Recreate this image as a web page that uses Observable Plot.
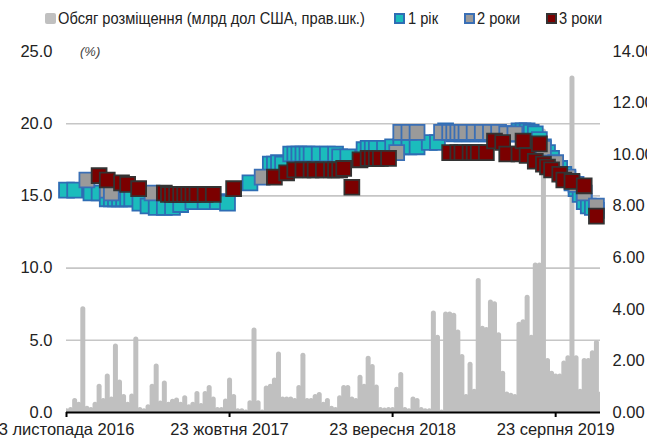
<!DOCTYPE html>
<html>
<head>
<meta charset="utf-8">
<script src="https://cdn.jsdelivr.net/npm/d3@7"></script>
<script src="https://cdn.jsdelivr.net/npm/@observablehq/plot@0.6"></script>
<style>
  body { margin: 0; background: #fff; }
  #wrap { position: relative; width: 647px; height: 445px; overflow: hidden; font-family: "Liberation Sans", Arial, sans-serif; color: #222; }
  #chart { position: absolute; left: 0; top: 0; }
  .lg { position: absolute; top: 9px; font-size: 17px; line-height: 20px; white-space: nowrap; transform: scaleX(0.862); transform-origin: 0 0; }
  .sw { position: absolute; top: 13px; width: 11px; height: 11px; box-sizing: border-box; }
  #unit { position: absolute; left: 80px; top: 44px; font-size: 13px; font-style: italic; color: #444; }
</style>
</head>
<body>
<div id="wrap">
  <div id="chart"></div>
  <div class="sw" style="left:45px;background:#c0c0c0;border-radius:2px;"></div>
  <div class="lg" style="left:58px;">Обсяг розміщення (млрд дол США, прав.шк.)</div>
  <div class="sw" style="left:394px;background:#1bbcbc;border:2px solid #2e6db4;"></div>
  <div class="lg" style="left:408px;">1 рік</div>
  <div class="sw" style="left:464px;background:#9a9a9a;border:2px solid #3a6fb5;"></div>
  <div class="lg" style="left:477px;">2 роки</div>
  <div class="sw" style="left:546px;background:#7b0000;border:2px solid #333;"></div>
  <div class="lg" style="left:559px;">3 роки</div>
  <div id="unit">(%)</div>
</div>
<script>
// Placement volume, bn USD (right axis), one value per auction slot 0..131
const volume = [
  0.05,0.1,0.45,0.3,4.0,0.15,0.1,0.3,1.0,0.45,
  1.4,0.5,2.56,1.16,0.6,0.3,0.62,2.83,0.1,0.05,
  0.2,1.0,1.78,0.35,1.12,0.3,0.42,0.47,0.3,0.55,
  0.2,0.3,0.72,0.25,0.72,0.95,0.5,0.1,0.1,0.43,
  1.24,0.6,0.05,0.05,0.0,0.36,3.18,0.36,0.0,0.93,
  1.0,1.24,2.25,0.5,0.5,0.5,0.45,0.95,2.2,0.45,
  0.45,0.6,0.68,0.3,0.45,0.15,0.1,0.55,0.95,0.95,
  0.5,0.45,1.35,1.0,2.08,1.76,0.97,0.1,0.08,0.1,
  0.1,0.88,1.45,0.1,0.05,0.5,0.45,0.1,0.05,0.05,
  3.84,2.9,0.0,3.8,3.8,3.75,3.1,2.15,0.6,1.85,
  0.8,5.1,3.25,3.2,4.27,4.2,3.0,1.5,0.7,0.65,
  0.6,3.4,3.5,4.45,2.9,5.7,5.7,10.9,2.0,1.5,
  1.4,1.4,1.9,2.1,12.95,2.1,0.8,2.0,2.0,2.3,
  2.7,0.7
];
// Yields, % (left axis): [slot, value]
const rate1 = [
  [0,15.4],[2,15.4],[6,15.2],[8,15.2],[10,14.8],[11,14.8],[12,14.8],[13,14.8],[14,14.8],[15,14.8],[16,14.8],
  [18,14.5],[20,14.3],[22,14.2],[24,14.2],[26,14.2],[28,14.4],[31,14.6],[34,14.6],[37,14.6],[39.5,14.5],
  [45,15.9],[50,17.2],[51,17.2],[52,17.3],[53,17.2],
  [55,17.9],[56,17.9],[57,17.9],[58,17.9],[59,17.9],[60,17.9],[62,17.9],[64,17.9],[66,17.9],[67,17.7],[69,17.7],
  [73,18.2],[74,18.3],[75,18.3],[76,18.3],[78,18.3],[80,18.4],[82,18.4],[84,18.4],[86,18.4],[89,18.7],[91,18.7],
  [93,19.5],[95,19.3],[97,19.3],[99,19.3],[101,19.3],[103,19.3],[105,19.3],[107,19.3],[109,19.3],
  [111,19.5],[112,19.5],[113,19.5],[114,19.4],[115,19.3],[116,18.9],
  [117,18.4],[118,18.0],[119,17.6],[120,17.2],[121,16.9],[122,16.5],[123,16.2],[124,15.9],[125,15.5],
  [126,15.1],[127,14.6],[128,14.3],[129,14.2],[130,14.0]
];
const rate2 = [
  [5,16.1],[10,15.4],[11,15.2],[21,15.2],[48,16.3],
  [81,18.0],[82,19.4],[84,19.4],[86,19.4],[92,19.4],[94,19.4],[95,19.4],[96,19.4],[97,19.4],[98,19.4],
  [100,19.4],[102,19.4],[104,19.4],[106,19.4],[108,19.3],[110,19.3],
  [117,18.3],[120,17.3],[123,16.3],[125,15.8],[127,15.2],[130,14.3]
];
const rate3 = [
  [8,16.4],[10,16.1],[13.5,15.9],[15,15.8],[17.7,15.5],
  [24,15.2],[25,15.1],[26,15.1],[27,15.1],[28,15.1],[29,15.1],[30,15.1],[31,15.1],[32,15.1],[34,15.1],[36,15.1],
  [41,15.5],[51,16.3],[54,16.6],
  [56,16.8],[58,16.8],[60,16.8],[61,16.8],[63,16.8],[65,16.8],[66,16.8],[67,16.8],[68,16.9],[70,15.6],
  [72,17.5],[74,17.6],[75,17.6],[76,17.6],[77,17.6],[79,17.6],
  [94,18.0],[96,18.0],[97,18.0],[99,18.0],[100,18.0],[101,18.0],[103,18.0],
  [105,18.8],[107,18.7],[108,17.9],[111,17.9],[112,18.8],[113,17.8],[115,17.4],[116,18.6],
  [117,17.2],[118,17.0],[119,16.8],[121,16.5],[122,16.1],[124,16.0],[127,15.7],[130,13.6]
];
const tickPos = [0, 40, 80, 120];
const tickLabels = ["3 листопада 2016", "23 жовтня 2017", "23 вересня 2018", "23 серпня 2019"];
const leftTicks = [0, 5, 10, 15, 20, 25];
const rightTicks = [0, 2, 4, 6, 8, 10, 12, 14];
const K = 25 / 14; // right-axis units -> left-axis units

const bars = volume.map((v, i) => ({i, v}));
const pts = a => a.map(([i, v]) => ({i, v}));
const font = '"Liberation Sans", Arial, sans-serif';

const chart = Plot.plot({
  width: 647,
  height: 445,
  marginLeft: 66,
  marginRight: 47,
  marginTop: 51,
  marginBottom: 33,
  style: {fontFamily: font, fontSize: "16.5px", color: "#222", background: "transparent", overflow: "visible"},
  x: {type: "linear", domain: [0, 131], axis: null, label: null},
  y: {type: "linear", domain: [0, 25], axis: null, label: null},
  marks: [
    Plot.gridY(leftTicks.filter(d => d > 0 && d < 25), {stroke: "#c6c6c6", strokeOpacity: 1, strokeWidth: 1.6}),
    Plot.ruleX(bars, {x: "i", y1: 0, y2: d => d.v * K, stroke: "#c0c0c0", strokeWidth: 5, strokeLinecap: "round", clip: true}),
    Plot.dot(pts(rate1), {x: "i", y: "v", symbol: "square", r: 8.4, fill: "#1bbcbc", stroke: "#2e6db4", strokeWidth: 1.8}),
    Plot.dot(pts(rate2), {x: "i", y: "v", symbol: "square", r: 8.4, fill: "#9a9a9a", stroke: "#3a6fb5", strokeWidth: 1.8}),
    Plot.dot(pts(rate3), {x: "i", y: "v", symbol: "square", r: 8.4, fill: "#7b0000", stroke: "#333333", strokeWidth: 1.8}),
    Plot.ruleY([0], {stroke: "#000", strokeWidth: 2}),
    Plot.axisX(tickPos, {label: null, tickSize: 5, strokeWidth: 2, stroke: "#000", tickPadding: 6, tickFormat: d => tickLabels[tickPos.indexOf(d)], fontSize: 16.5, fill: "#222"}),
    Plot.axisY(leftTicks, {label: null, anchor: "left", tickSize: 0, tickPadding: 14, tickFormat: d => d.toFixed(1), fontSize: 16.5, fill: "#222"}),
    Plot.axisY(rightTicks.map(v => v * K), {label: null, anchor: "right", tickSize: 0, tickPadding: 12, tickFormat: d => (d / K).toFixed(2), fontSize: 16.5, fill: "#222"})
  ]
});
document.getElementById("chart").appendChild(chart);
</script>
</body>
</html>
